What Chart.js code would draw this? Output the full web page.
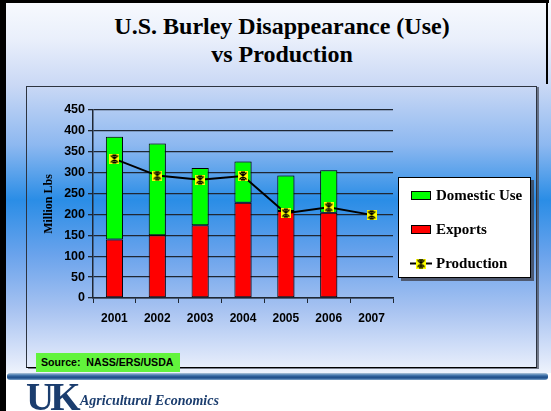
<!DOCTYPE html>
<html>
<head>
<meta charset="utf-8">
<script src="https://cdn.jsdelivr.net/npm/chart.js@4.4.1/dist/chart.umd.min.js"></script>
<style>
  html, body { margin: 0; padding: 0; }
  body {
    width: 551px; height: 411px; position: relative; overflow: hidden;
    background: #ffffff;
    font-family: "Liberation Sans", Arial, sans-serif;
  }
  #slide {
    position: absolute; left: 0; top: 0; width: 551px; height: 373px;
    background: linear-gradient(to bottom,
      #f8fafe 0px, #e9effb 40px, #c9d8f5 86px, #8db8f0 145px,
      #2a8de6 200px, #6aa3ec 255px, #a8c3f1 310px, #dfe8fa 360px, #eef3fc 373px);
  }
  #frameL { position: absolute; left: 0; top: 0; width: 6px; height: 411px; background: #000; }
  #frameT { position: absolute; left: 0; top: 0; width: 549px; height: 3px; background: #000; }
  #frameR { position: absolute; left: 546px; top: 0; width: 2px; height: 84px; background: #000; }
  .title {
    position: absolute; left: 0; width: 564px; text-align: center;
    font-family: "Liberation Serif", "Times New Roman", serif;
    font-weight: bold; font-size: 24px; color: #000; line-height: 28px;
  }
  #box {
    position: absolute; left: 26px; top: 86px; width: 509px; height: 280px;
    border: 1px solid #2d3440; border-bottom-color: #000;
    box-shadow: 2px 1px 0 rgba(70,75,90,0.7);
  }
  #chartCanvas { position: absolute; left: 26px; top: 86px; }
  #source {
    position: absolute; left: 36px; top: 353px; width: 144px; height: 19px;
    background: #62f43c; font-weight: bold; font-size: 10.6px; color: #000;
    line-height: 19px; padding-left: 5px; box-sizing: border-box; white-space: pre;
  }
  #bar {
    position: absolute; left: 7px; top: 373px; width: 541px; height: 7px; border-radius: 3px;
    background: linear-gradient(to bottom, #b4c8da 0%, #4b7db2 30%, #1c4b86 60%, #3f6fa6 85%, #8fb0d0 100%);
  }
  #uk {
    position: absolute; left: 26px; top: 377px;
    font-family: "Liberation Serif", "Times New Roman", serif; font-weight: bold;
    font-size: 39px; letter-spacing: -4px; color: #1b3d6e; line-height: 39px;
  }
  #agec {
    position: absolute; left: 80px; top: 393px;
    font-family: "Liberation Serif", "Times New Roman", serif; font-style: italic; font-weight: bold;
    font-size: 14px; color: #1b3d6e; line-height: 16px;
  }
</style>
</head>
<body>
<div id="slide"></div>
<div id="frameL"></div>
<div id="frameT"></div>
<div id="frameR"></div>
<div class="title" style="top:12px">U.S. Burley Disappearance (Use)</div>
<div class="title" style="top:40px">vs Production</div>
<div id="box"></div>
<canvas id="chartCanvas" width="511" height="282"></canvas>
<div id="source">Source:  NASS/ERS/USDA</div>
<div id="bar"></div>
<div id="uk">UK</div>
<div id="agec">Agricultural Economics</div>

<script>
// Burley tobacco use vs production, million lbs
const years = ['2001', '2002', '2003', '2004', '2005', '2006', '2007'];
const exportsLbs = [140, 150, 174, 228, 208, 204, null];
const domesticLbs = [246, 220, 137, 99, 85, 102, null];
const productionLbs = [333, 293, 283, 292, 203, 217, 199];

// Star-in-yellow-square marker for the production series
function makeStarMarker(size) {
  const c = document.createElement('canvas');
  c.width = size; c.height = size;
  const g = c.getContext('2d');
  g.fillStyle = '#ffff00';
  g.fillRect(0, 0, size, size);
  g.strokeStyle = '#000';
  g.lineWidth = 1.4;
  const a = 1.5, b = size - 1.5, m = size / 2;
  g.beginPath();
  g.moveTo(a, a); g.lineTo(b, b);
  g.moveTo(b, a); g.lineTo(a, b);
  g.moveTo(m, 1); g.lineTo(m, size - 1);
  g.moveTo(m - 2, 1.2); g.lineTo(m + 2, 1.2);
  g.moveTo(m - 2, size - 1.2); g.lineTo(m + 2, size - 1.2);
  g.stroke();
  return c;
}
const starMarker = makeStarMarker(10);

const serifBold = (size) => ({ family: '"Liberation Serif", "Times New Roman", serif', weight: 'bold', size });
const sansBold = (size) => ({ family: '"Liberation Sans", Arial, sans-serif', weight: 'bold', size });

// Soft shadow to the right of each bar
const barShadow = {
  id: 'barShadow',
  beforeDatasetDraw(chart, args) {
    if (args.meta.type !== 'bar') return;
    const ctx = chart.ctx;
    ctx.save();
    ctx.shadowColor = 'rgba(10,20,60,0.35)';
    ctx.shadowOffsetX = 2;
    ctx.shadowOffsetY = 0;
    ctx.shadowBlur = 1;
  },
  afterDatasetDraw(chart, args) {
    if (args.meta.type !== 'bar') return;
    chart.ctx.restore();
  }
};

// Boxed legend to the right of the plot
const boxedLegend = {
  id: 'boxedLegend',
  afterDraw(chart, args, opts) {
    const ctx = chart.ctx;
    const x = opts.x, y = opts.y, w = opts.width, h = opts.height;
    ctx.save();
    ctx.fillStyle = 'rgba(60,60,70,0.75)';
    ctx.fillRect(x + 3, y + 3, w, h);
    ctx.fillStyle = '#fff';
    ctx.fillRect(x, y, w, h);
    ctx.strokeStyle = '#000';
    ctx.lineWidth = 1;
    ctx.strokeRect(x + 0.5, y + 0.5, w - 1, h - 1);

    ctx.font = `bold ${opts.fontSize}px "Liberation Serif", "Times New Roman", serif`;
    ctx.textBaseline = 'middle';
    ctx.textAlign = 'left';
    opts.order.forEach((dsIndex, i) => {
      const ds = chart.data.datasets[dsIndex];
      const cy = opts.firstY + i * opts.spacing;
      const sx = x + 13;
      if (ds.type === 'line') {
        ctx.strokeStyle = ds.borderColor;
        ctx.lineWidth = 2;
        ctx.beginPath();
        ctx.moveTo(sx - 1, cy); ctx.lineTo(sx + 21, cy);
        ctx.stroke();
        ctx.drawImage(starMarker, sx + 10 - 5, cy - 5);
      } else {
        ctx.fillStyle = ds.backgroundColor;
        ctx.fillRect(sx, cy - 4.5, 20, 9);
        ctx.strokeStyle = '#000';
        ctx.lineWidth = 1;
        ctx.strokeRect(sx + 0.5, cy - 4.5 + 0.5, 19, 8);
      }
      ctx.fillStyle = '#000';
      ctx.fillText(ds.label, sx + 25, cy + 1);
    });
    ctx.restore();
  }
};

const gridColor = '#1f2733';

new Chart(document.getElementById('chartCanvas'), {
  type: 'bar',
  data: {
    labels: years,
    datasets: [
      {
        type: 'line',
        label: 'Production',
        data: productionLbs,
        stack: 'production',
        borderColor: '#000',
        borderWidth: 2,
        tension: 0,
        pointStyle: starMarker,
        pointRadius: 5,
        pointHoverRadius: 5
      },
      {
        label: 'Exports',
        data: exportsLbs,
        stack: 'use',
        backgroundColor: '#ff0000',
        borderColor: '#000',
        borderWidth: 1,
        borderSkipped: false,
        barPercentage: 0.4,
        categoryPercentage: 1.0
      },
      {
        label: 'Domestic Use',
        data: domesticLbs,
        stack: 'use',
        backgroundColor: '#00ff00',
        borderColor: '#000',
        borderWidth: 1,
        borderSkipped: false,
        barPercentage: 0.4,
        categoryPercentage: 1.0
      }
    ]
  },
  options: {
    responsive: false,
    animation: false,
    devicePixelRatio: 1,
    layout: { padding: { top: 24, right: 144, left: 0, bottom: 0 } },
    plugins: {
      legend: { display: false },
      tooltip: { enabled: false },
      title: { display: false },
      boxedLegend: {
        x: 372, y: 91, width: 133, height: 101,
        firstY: 109.5, spacing: 34, fontSize: 15,
        order: [2, 1, 0]
      }
    },
    scales: {
      x: {
        stacked: true,
        afterFit(scale) { scale.height = 70; },
        grid: {
          display: true, drawOnChartArea: false, drawTicks: true,
          tickLength: 5, color: gridColor, lineWidth: 1, offset: true
        },
        border: { display: true, color: gridColor, width: 1.5 },
        ticks: { color: '#000', font: sansBold(12), padding: 8, maxRotation: 0 }
      },
      y: {
        stacked: true,
        min: 0, max: 450,
        afterFit(scale) { scale.width = 67; },
        grid: {
          display: true, drawOnChartArea: true, drawTicks: true,
          tickLength: 5, color: gridColor, lineWidth: 1.3
        },
        border: { display: true, color: gridColor, width: 1.5 },
        ticks: { stepSize: 50, color: '#000', font: sansBold(12.5), padding: 3 },
        title: {
          display: true, text: 'Million Lbs', color: '#000',
          font: serifBold(12), padding: { top: 16, bottom: 0 }
        }
      }
    }
  },
  plugins: [barShadow, boxedLegend]
});
</script>
</body>
</html>
